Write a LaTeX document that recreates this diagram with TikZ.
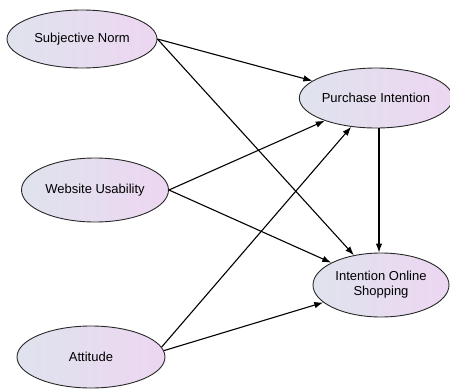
\documentclass[tikz,border=0pt]{standalone}
\usepackage{fontspec}
\setmainfont{Liberation Sans}
\usetikzlibrary{arrows.meta,shapes.geometric}
\definecolor{ovalL}{RGB}{223,227,238}
\definecolor{ovalR}{RGB}{237,214,241}
\definecolor{ovalEdge}{RGB}{40,40,40}
\tikzset{
  construct/.style={ellipse, draw=ovalEdge, line width=0.9pt,
    left color=ovalL, right color=ovalR, inner sep=0pt,
    font=\fontsize{13}{15}\selectfont, align=center},
  path/.style={draw=black, line width=1.1pt, -{Latex[length=9pt,width=6.5pt]}}
}
\begin{document}
\begin{tikzpicture}[x=1pt,y=-1pt]
\useasboundingbox (0,0) rectangle (450,389);
\node[construct, minimum width=150pt, minimum height=58pt] (sn)  at (82,39)  {Subjective Norm};
\node[construct, minimum width=147pt, minimum height=64pt] (wu)  at (95,190) {Website Usability};
\node[construct, minimum width=148pt, minimum height=62pt] (att) at (91,357) {Attitude};
\node[construct, minimum width=142pt, minimum height=60pt] (pi)  at (376,98) {Purchase Intention};
\node[construct, minimum width=136pt, minimum height=64pt] (ios) at (381,285) {Intention Online\\Shopping};

\draw[path] (sn.east) -- (pi);
\draw[path] (sn.east) -- (ios);
\draw[path] (wu.east) -- (pi);
\draw[path] (wu.east) -- (ios);
\draw[path] (att.8) -- (pi);
\draw[path] (att.5) -- (ios);
\draw[path] (pi.south) ++(3,0) coordinate (pis) -- (pis |- ios.north);
\end{tikzpicture}
\end{document}
